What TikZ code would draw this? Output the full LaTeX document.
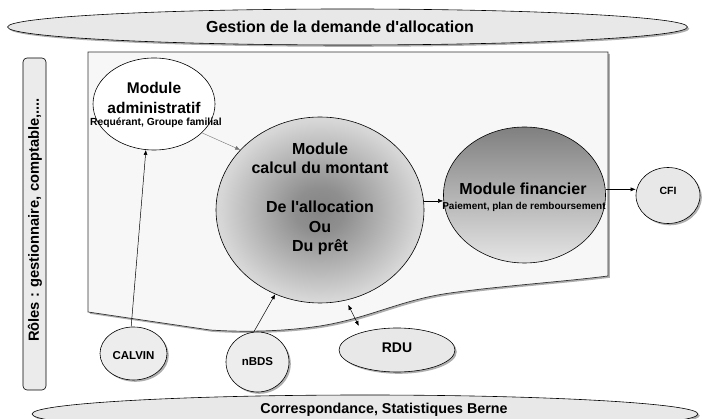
\documentclass[tikz,border=0pt]{standalone}
\usepackage{fontspec}
\setmainfont{Liberation Sans}
\usetikzlibrary{shapes.geometric,shadows,arrows.meta}
\pgfdeclareradialshading{calcshade}{\pgfpoint{0bp}{0bp}}{color(0bp)=(black!48); color(6bp)=(black!44); color(24bp)=(black!16); color(35bp)=(black!9); color(50bp)=(black!9)}
\tikzset{
  ell/.style={ellipse, draw=black, line width=0.6pt, inner sep=0pt},
  shad/.style={drop shadow={shadow xshift=1.8pt, shadow yshift=-1.8pt, opacity=0.45, fill=black!70}},
  lbl/.style={font=\bfseries, align=center, inner sep=0pt},
  arr/.style={-{Latex[length=5pt,width=4pt]}, line width=0.5pt},
  darr/.style={{Latex[length=5pt,width=4pt]}-{Latex[length=5pt,width=4pt]}, line width=0.5pt},
  garr/.style={-{Latex[length=5pt,width=4pt]}, line width=0.4pt, draw=black!55},
  fA/.style={font=\bfseries\fontsize{16}{19.5}\selectfont},
  fB/.style={font=\bfseries\fontsize{15.5}{20}\selectfont},
  fS/.style={font=\bfseries\fontsize{10.3}{12}\selectfont},
  fM/.style={font=\bfseries\fontsize{11.5}{13}\selectfont},
}
\begin{document}
\begin{tikzpicture}[x=1pt,y=-1pt]
\useasboundingbox (0,0) rectangle (702,419);

% top ellipse
\node[ell, fill=black!9, shad, minimum width=680, minimum height=36] (top) at (347.5,27) {};
\node[lbl, fA] (topT) at (340,27) {Gestion de la demande d\textquotesingle allocation};

% bottom ellipse
\node[ell, fill=black!9, shad, minimum width=666, minimum height=38] (bot) at (365,414) {};
\node[lbl, font=\bfseries\fontsize{14.3}{16}\selectfont] (botT) at (384,410) {Correspondance, Statistiques Berne};

% roles bar
\node[draw=black, line width=0.6pt, fill=black!8, rounded corners=4pt, minimum width=23, minimum height=332, inner sep=0pt] (roles) at (34.5,224) {};
\node[lbl, font=\bfseries\fontsize{14.7}{16}\selectfont, rotate=90] (rolesT) at (35,220) {Rôles : gestionnaire, comptable,....};

% main region
\path[draw=black!80, line width=0.7pt, fill=black!3, shad]
  (88,52) coordinate (m1) -- (608,52) coordinate (m2) -- (608,276) coordinate (m3)
  .. controls (560,282) and (500,286) .. (450,293)
  .. controls (400,300) and (370,318) .. (320,326)
  .. controls (280,332) and (240,332) .. (210,330)
  -- (88,312) coordinate (m4) -- cycle;

% modules
\node[ell, fill=white, minimum width=122, minimum height=92] (adm) at (154,104) {};
\node[lbl, fB] (admT) at (154,98) {Module\\administratif};
\node[lbl, fS] (admS) at (156,123) {Requérant, Groupe familial};

\node[ell, shading=calcshade, minimum width=208, minimum height=186] (calc) at (320,210) {};
\node[lbl, fA] (calcT) at (320,199) {Module\\calcul du montant\\[19.5pt]De l\textquotesingle allocation\\Ou\\Du prêt};

\node[ell, top color=black!50, bottom color=black!10, minimum width=162, minimum height=136] (fin) at (524.5,195) {};
\node[lbl, fA] (finT) at (523,189) {Module financier};
\node[lbl, font=\bfseries\fontsize{10}{12}\selectfont] (finS) at (524,207) {Paiement, plan de remboursement};

\node[ell, fill=black!9, shad, minimum width=64, minimum height=56] (cfi) at (668,195.5) {};
\node[lbl, font=\bfseries\fontsize{10.5}{12}\selectfont] (cfiT) at (668,191) {CFI};

\node[ell, fill=black!7, shad, minimum width=67, minimum height=53] (calvin) at (133.5,353.5) {};
\node[lbl, fM] (calvinT) at (133.5,356) {CALVIN};

\node[ell, fill=black!7, shad, minimum width=63, minimum height=60] (nbds) at (257.5,362) {};
\node[lbl, fM] (nbdsT) at (257.5,362) {nBDS};

\node[ell, fill=black!9, shad, minimum width=116, minimum height=44] (rdu) at (397,350) {};
\node[lbl, font=\bfseries\fontsize{14}{16}\selectfont] (rduT) at (397,348) {RDU};

% connectors
\draw[garr] (adm.-31) -- (calc.143);
\draw[arr] (calc.5) -- (calc.5 -| fin.west);
\draw[arr] (fin.4) -- (fin.4 -| cfi.west);
\draw[arr] (calvin.95) -- (adm.260);
\draw[arr] (nbds.97) -- (calc.242);
\draw[darr, shorten <=5pt, shorten >=7pt] (calc.286) -- (rdu.153);
\end{tikzpicture}
\end{document}
